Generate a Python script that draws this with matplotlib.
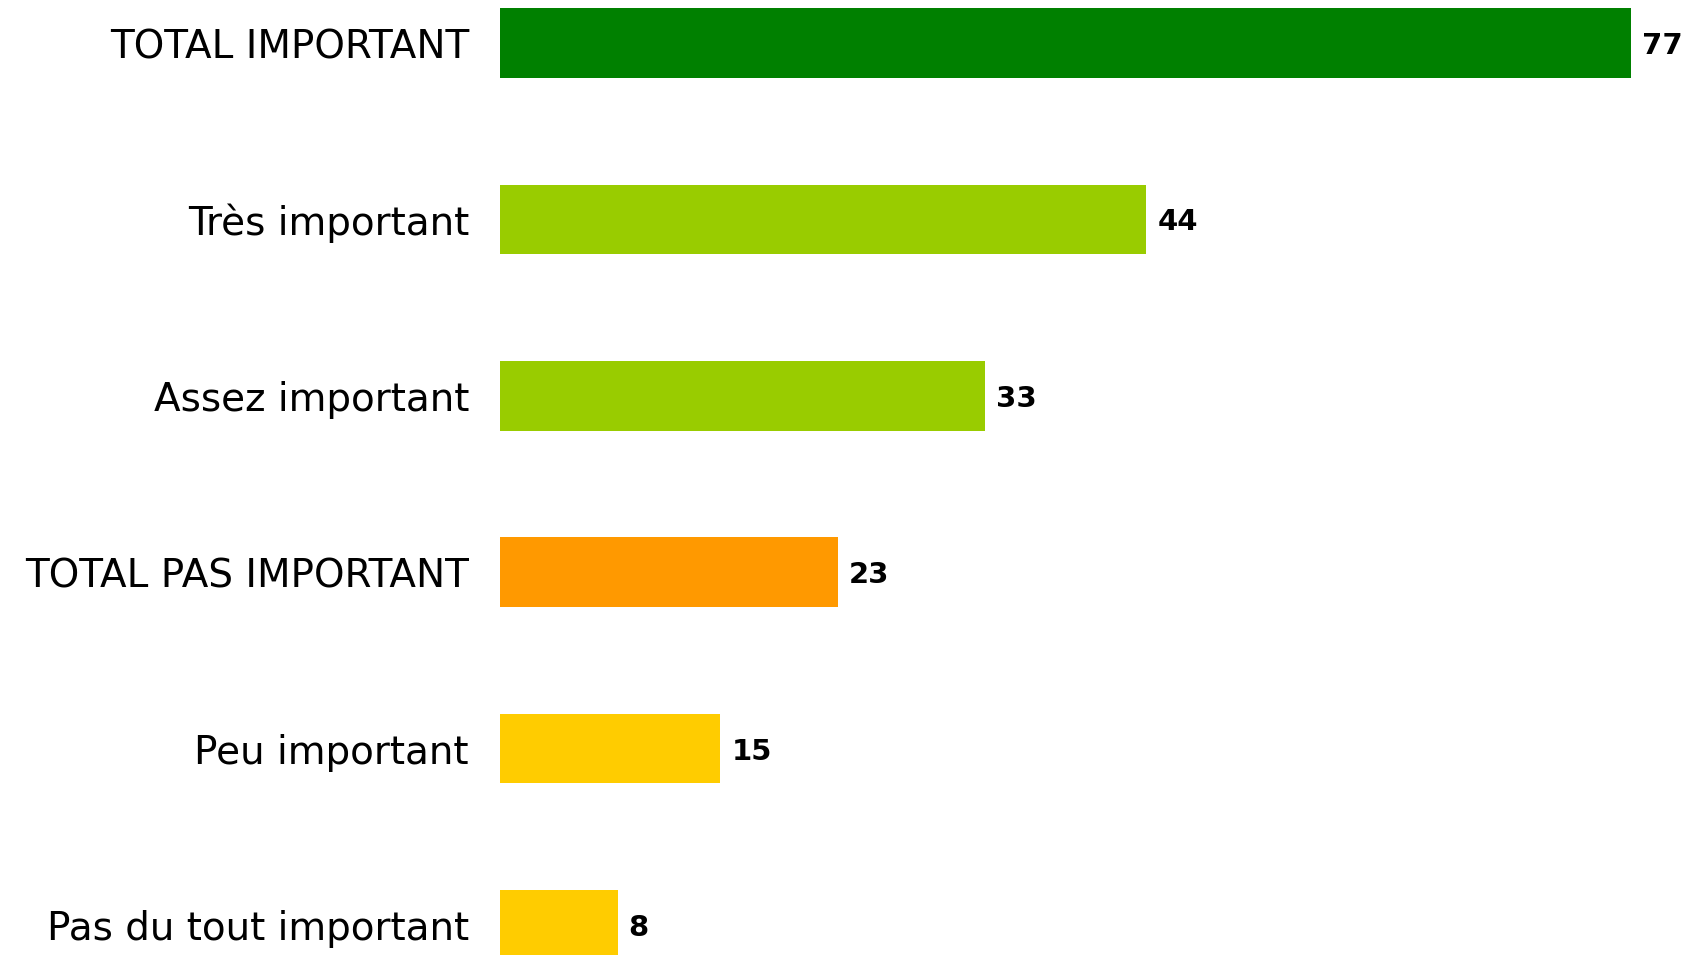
import matplotlib
matplotlib.use("Agg")
import matplotlib.pyplot as plt

categories = ["TOTAL IMPORTANT", "Très important", "Assez important",
              "TOTAL PAS IMPORTANT", "Peu important", "Pas du tout important"]
values = [77, 44, 33, 23, 15, 8]
colors = ["#008000", "#99CC00", "#99CC00", "#FF9900", "#FFCC00", "#FFCC00"]

W, H = 1686, 955
fig = plt.figure(figsize=(W / 100, H / 100), dpi=100)
ax = fig.add_axes([500 / W, 0, 1 - 500 / W, 1])

ypos = list(range(len(categories)))
ax.barh(ypos, values, height=0.395, color=colors)
ax.set_xlim(0, 1186 / 14.69)
ax.set_ylim(5.170, -0.244)
ax.axis("off")

for y, v in zip(ypos, values):
    ax.annotate(str(v), xy=(v, y), xytext=(11, 0), textcoords="offset pixels",
                ha="left", va="center_baseline", fontsize=21, fontweight="bold",
                family="DejaVu Sans", color="#000000")
for y, c in zip(ypos, categories):
    ax.annotate(c, xy=(0, y), xytext=(-31, 0), textcoords="offset pixels",
                ha="right", va="center_baseline", fontsize=28, family="DejaVu Sans",
                color="#000000", annotation_clip=False)

fig.savefig("out.png", dpi=100, facecolor="white")
